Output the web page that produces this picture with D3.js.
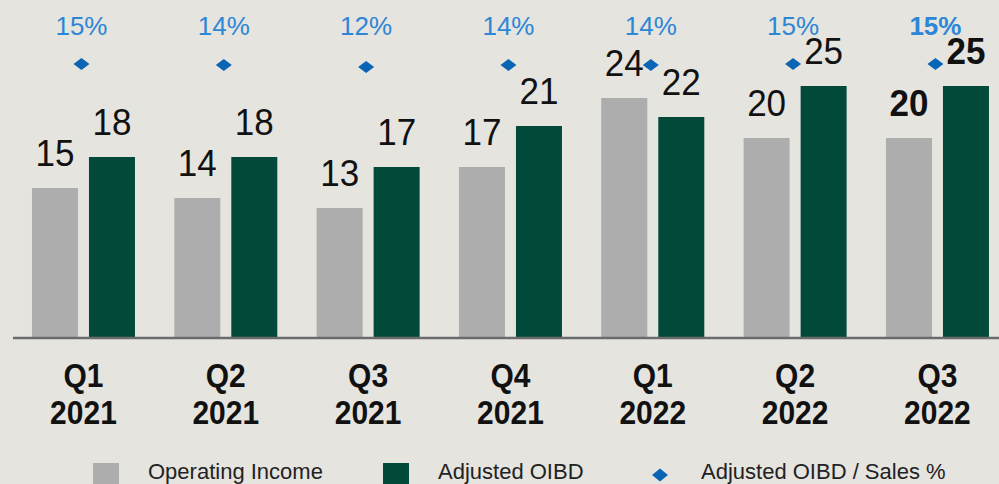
<!DOCTYPE html>
<html>
<head>
<meta charset="utf-8">
<script src="https://cdn.jsdelivr.net/npm/d3@7"></script>
<style>
  html, body { margin: 0; padding: 0; background: #e5e4df; }
  svg { display: block; font-family: "Liberation Sans", Arial, sans-serif; }
</style>
</head>
<body>
<svg id="chart" width="999" height="484"></svg>
<script>
const quarters = ["Q1", "Q2", "Q3", "Q4", "Q1", "Q2", "Q3"];
const years = ["2021", "2021", "2021", "2021", "2022", "2022", "2022"];
const operatingIncome = [15, 14, 13, 17.1, 24, 20, 20];
const adjustedOIBD = [18.1, 18.1, 17.1, 21.2, 22.1, 25.2, 25.2];
const oibdSalesPct = [15, 14, 12, 14, 14, 15, 15];
const seriesNames = ["Operating Income", "Adjusted OIBD", "Adjusted OIBD / Sales %"];

const W = 999, H = 484;
const colors = { oi: "#adadad", adj: "#014a3a", diamond: "#0a66b5", pct: "#2e86d6", bg: "#e5e4df" };

const svg = d3.select("#chart");
svg.append("rect").attr("width", W).attr("height", H).attr("fill", colors.bg);

const cats = quarters.map((q, i) => i);
const x = d3.scaleBand().domain(cats).range([12.3, 12.3 + 7 * 142.33]).paddingInner(0).paddingOuter(0);
const xi = d3.scaleBand().domain(["oi", "adj"]).range([19.67, 122.67]).paddingInner(0.193).paddingOuter(0);
const y = d3.scaleLinear().domain([0, 25]).range([338, 88]);
const y2 = d3.scaleLinear().domain([0, 100]).range([79, -21]);

const data = cats.map(i => ({ i, oi: operatingIncome[i], adj: adjustedOIBD[i], pct: oibdSalesPct[i] }));
const last = cats.length - 1;
const fmt = d3.format(".0f");

const g = svg.append("g");

// bars
["oi", "adj"].forEach(key => {
  g.selectAll(".bar-" + key).data(data).enter().append("rect")
    .attr("x", d => x(d.i) + xi(key))
    .attr("width", xi.bandwidth())
    .attr("y", d => y(d[key]))
    .attr("height", d => y(0) - y(d[key]))
    .attr("fill", colors[key]);
  g.selectAll(".lbl-" + key).data(data).enter().append("text")
    .attr("transform", d => `translate(${x(d.i) + xi(key) + xi.bandwidth() / 2},${y(d[key]) - 22}) scale(1,1.05)`)
    .attr("text-anchor", "middle")
    .attr("font-size", 35)
    .attr("font-weight", d => d.i === last ? "bold" : "normal")
    .attr("fill", "#111")
    .text(d => fmt(d[key]));
});

// axis baseline
const axis = d3.axisBottom(x).tickSize(0).tickFormat("");
const axG = svg.append("g").attr("transform", `translate(0,${y(0)})`).call(axis);
axG.select(".domain").attr("stroke", "#6b6b6b").attr("stroke-width", 2.5)
  .attr("d", `M13,0H${W}`);

// category labels
const xl = svg.append("g");
xl.selectAll(".q").data(data).enter().append("text")
  .attr("transform", d => `translate(${x(d.i) + x.bandwidth() / 2},387) scale(1,1.12)`)
  .attr("text-anchor", "middle").attr("font-size", 30).attr("font-weight", "bold").attr("fill", "#111")
  .text(d => quarters[d.i]);
xl.selectAll(".yr").data(data).enter().append("text")
  .attr("transform", d => `translate(${x(d.i) + x.bandwidth() / 2},424) scale(1,1.12)`)
  .attr("text-anchor", "middle").attr("font-size", 30).attr("font-weight", "bold").attr("fill", "#111")
  .text(d => years[d.i]);

// diamonds
function diamondPath(w, h) {
  return `M0,${-h / 2}L${w / 2},0L0,${h / 2}L${-w / 2},0Z`;
}
g.selectAll(".dia").data(data).enter().append("path")
  .attr("transform", d => `translate(${x(d.i) + x.bandwidth() / 2 - 2},${y2(d.pct)})`)
  .attr("d", diamondPath(16, 12))
  .attr("fill", colors.diamond);

// pct labels
g.selectAll(".pct").data(data).enter().append("text")
  .attr("x", d => x(d.i) + x.bandwidth() / 2 - 2).attr("y", 35)
  .attr("text-anchor", "middle").attr("font-size", 26)
  .attr("font-weight", d => d.i === last ? "bold" : "normal")
  .attr("fill", colors.pct)
  .text(d => fmt(d.pct) + "%");

// legend
const lg = svg.append("g");
lg.append("rect").attr("x", 93).attr("y", 463).attr("width", 26).attr("height", 26).attr("fill", colors.oi);
lg.append("text").attr("x", 148).attr("y", 479).attr("font-size", 22).attr("fill", "#222").text(seriesNames[0]);
lg.append("rect").attr("x", 383).attr("y", 463).attr("width", 26).attr("height", 26).attr("fill", colors.adj);
lg.append("text").attr("x", 438).attr("y", 479).attr("font-size", 22).attr("fill", "#222").text(seriesNames[1]);
lg.append("path").attr("transform", "translate(660,475)").attr("d", diamondPath(16, 13)).attr("fill", colors.diamond);
lg.append("text").attr("x", 701).attr("y", 479).attr("font-size", 22).attr("fill", "#222").text(seriesNames[2]);
</script>
</body>
</html>
